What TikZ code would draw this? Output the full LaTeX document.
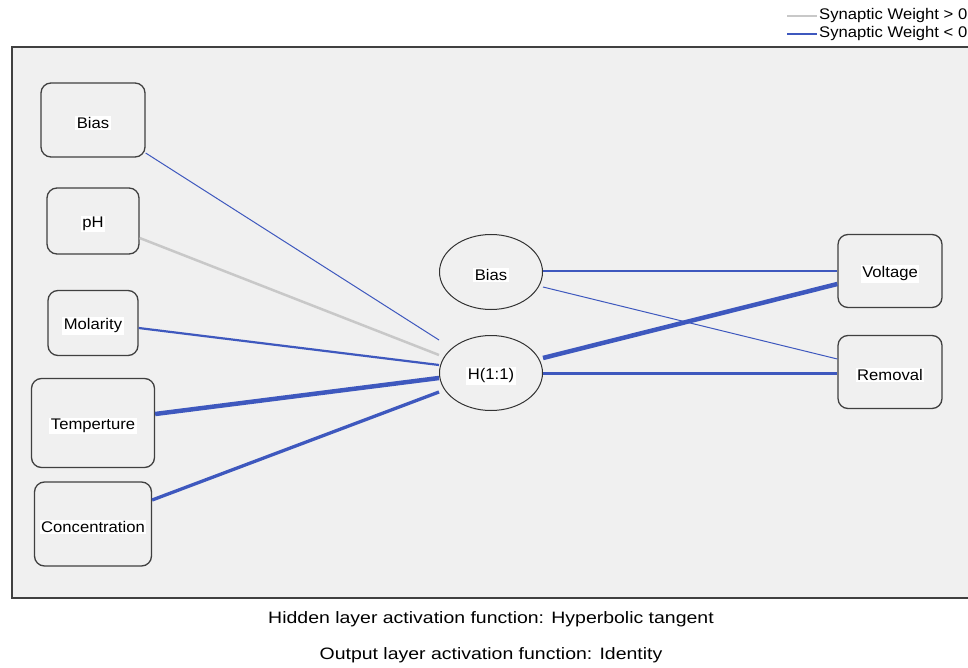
\documentclass[tikz,border=0pt]{standalone}
\usepackage{fontspec}
\setmainfont{Liberation Sans}
\newfontfamily\lblfont[FakeStretch=1.08]{Liberation Sans}
\newfontfamily\capfont[FakeStretch=1.18]{Liberation Sans}
\usetikzlibrary{shapes.geometric,calc}
\definecolor{panelgray}{RGB}{240,240,240}
\definecolor{edgegray}{RGB}{64,64,64}
\definecolor{negblue}{RGB}{62,88,190}
\definecolor{posgray}{RGB}{200,200,200}
\setlength{\fboxsep}{1.5pt}
\newcommand{\lbl}[1]{\raisebox{-3pt}[\height][\depth]{\colorbox{white}{#1}}}
\begin{document}
\begin{tikzpicture}[x=1pt,y=-1pt,
  every node/.style={font=\lblfont\fontsize{15.4}{18}\selectfont},
  unitbox/.style={draw=edgegray,line width=1.3pt,rounded corners=10pt,inner sep=0pt},
  unitell/.style={draw=black!80,line width=1pt,ellipse,minimum width=103pt,minimum height=75pt,inner sep=0pt},
  negwt/.style={draw=negblue},
  poswt/.style={draw=posgray}]
\useasboundingbox (0,0) rectangle (968,668);
% panel
\fill[panelgray] (12,47) rectangle (968,598);
\draw[edgegray,line width=1.3pt] (972,47) -- (12,47) -- (12,598) -- (972,598);
% legend
\coordinate (lg1a) at (787,16); \coordinate (lg1b) at (817,16);
\coordinate (lg2a) at (787,34); \coordinate (lg2b) at (817,34);
\draw[poswt,line width=1.2pt] (lg1a) -- (lg1b);
\draw[negwt,line width=2pt] (lg2a) -- (lg2b);
\node[anchor=west,inner sep=0pt] (leg1) at (819,16) {Synaptic Weight > 0};
\node[anchor=west,inner sep=0pt] (leg2) at (819,34) {Synaptic Weight < 0};
% input nodes
\node[unitbox,minimum width=104pt,minimum height=74pt] (ib) at (93,120) {\lbl{Bias}};
\node[unitbox,minimum width=92pt,minimum height=66pt] (ph) at (93,221) {\lbl{pH}};
\node[unitbox,minimum width=90pt,minimum height=65pt] (mo) at (93,323) {\lbl{Molarity}};
\node[unitbox,minimum width=123pt,minimum height=89pt] (te) at (93,423) {\lbl{Temperture}};
\node[unitbox,minimum width=117pt,minimum height=84pt] (co) at (93,524) {\lbl{Concentration}};
% hidden
\node[unitell] (hb) at (491,272) {\lbl{Bias}};
\node[unitell] (h) at (491,373) {\lbl{H(1:1)}};
% outputs
\node[unitbox,minimum width=104pt,minimum height=73pt] (vo) at (890,271) {\lbl{Voltage}};
\node[unitbox,minimum width=104pt,minimum height=73pt] (re) at (890,372) {\lbl{Removal}};
% connections input -> hidden
\draw[negwt,line width=1pt] ([yshift=-33pt]ib.east) -- ([yshift=33pt]h.west);
\draw[poswt,line width=2.5pt] ([yshift=-17pt]ph.east) -- ([yshift=18pt]h.west);
\draw[negwt,line width=2.2pt] ([yshift=-5pt]mo.east) -- ([yshift=8pt]h.west);
\draw[negwt,line width=4.5pt] ([yshift=9pt]te.east) -- ([yshift=-5pt]h.west);
\draw[negwt,line width=3.3pt] ([yshift=24pt]co.east) -- ([yshift=-19pt]h.west);
% hidden -> output
\draw[negwt,line width=2pt] ([yshift=1pt]hb.east) -- (vo.west);
\draw[negwt,line width=1pt] ([yshift=-15pt]hb.east) -- ([yshift=13pt]re.west);
\draw[negwt,line width=4.5pt] ([yshift=15pt]h.east) -- ([yshift=-13pt]vo.west);
\draw[negwt,line width=3pt] (h.east) -- ([yshift=-1pt]re.west);
% captions
\node[font=\capfont\fontsize{16.5}{19}\selectfont] (cap1) at (491,619) {Hidden layer activation function: Hyperbolic tangent};
\node[font=\capfont\fontsize{16.5}{19}\selectfont] (cap2) at (491,655) {Output layer activation function: Identity};
\end{tikzpicture}
\end{document}
